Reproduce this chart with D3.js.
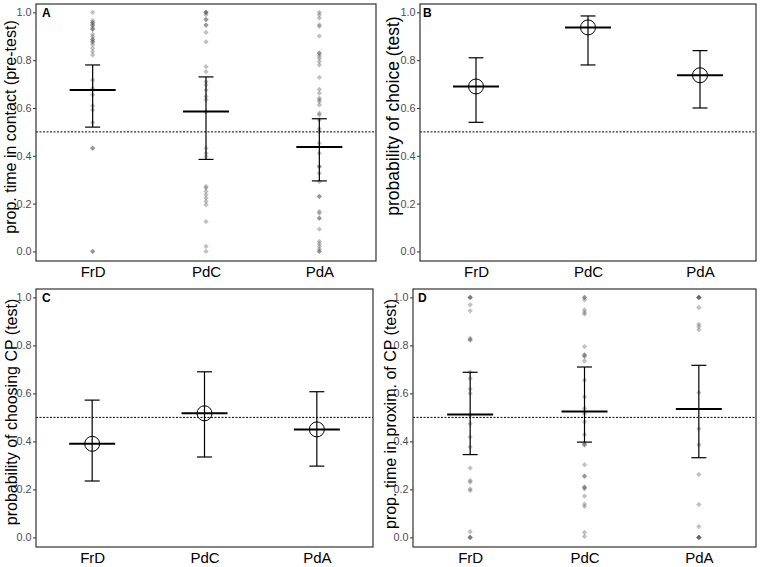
<!DOCTYPE html>
<html>
<head>
<meta charset="utf-8">
<script src="https://cdn.jsdelivr.net/npm/d3@7"></script>
<style>
  body { margin: 0; background: #fff; }
  text { font-family: "Liberation Sans", Arial, sans-serif; }
</style>
</head>
<body>
<script>
const width = 760;
const height = 567;

const groups = ['FrD', 'PdC', 'PdA'];
const yTicks = [0, 0.2, 0.4, 0.6, 0.8, 1.0];
const chance = 0.5;

// panel A: proportion of time in contact (pre-test), per individual
const preFrD = [1.0, 0.965, 0.957, 0.957, 0.947, 0.947, 0.937, 0.929, 0.929, 0.908, 0.898, 0.887, 0.887,
  0.877, 0.877, 0.866, 0.85, 0.836, 0.822, 0.717, 0.682, 0.655, 0.609, 0.592, 0.539, 0.432, 0.432, 0.0, 0.0];
const prePdC = [1.0, 1.0, 1.0, 0.99, 0.97, 0.97, 0.947, 0.947, 0.916, 0.877, 0.773, 0.752, 0.71, 0.696, 0.675,
  0.648, 0.634, 0.585, 0.432, 0.411, 0.397, 0.272, 0.265, 0.251, 0.237, 0.223, 0.209, 0.195, 0.125, 0.021, 0.0];
const prePdA = [1.0, 0.99, 0.976, 0.948, 0.941, 0.901, 0.829, 0.829, 0.818, 0.808, 0.794, 0.78, 0.728, 0.678,
  0.662, 0.641, 0.634, 0.627, 0.613, 0.578, 0.571, 0.55, 0.513, 0.502, 0.453, 0.411, 0.355, 0.355, 0.327,
  0.292, 0.23, 0.23, 0.167, 0.16, 0.139, 0.139, 0.093, 0.042, 0.032, 0.021, 0.01, 0.0, 0.0];
const preMean = [0.675, 0.585, 0.437];
const preLo = [0.52, 0.385, 0.295];
const preHi = [0.78, 0.73, 0.555];

// panel B: probability of choice (test)
const choiceMean = [0.69, 0.937, 0.737];
const choiceLo = [0.54, 0.78, 0.60];
const choiceHi = [0.81, 0.985, 0.84];

// panel C: probability of choosing CP (test)
const cpMean = [0.39, 0.517, 0.45];
const cpLo = [0.235, 0.335, 0.297];
const cpHi = [0.572, 0.69, 0.607];

// panel D: proportion of time in proximity of CP (test), per individual
const proxFrD = [1.0, 1.0, 1.0, 0.969, 0.944, 0.83, 0.823, 0.823, 0.69, 0.662, 0.618, 0.6, 0.509, 0.474,
  0.418, 0.377, 0.289, 0.237, 0.23, 0.202, 0.195, 0.024, 0.0, 0.0, 0.0];
const proxPdC = [1.0, 1.0, 0.99, 0.948, 0.938, 0.93, 0.795, 0.76, 0.76, 0.753, 0.735, 0.655, 0.586, 0.537,
  0.516, 0.481, 0.428, 0.393, 0.386, 0.386, 0.303, 0.255, 0.255, 0.209, 0.209, 0.202, 0.172, 0.139, 0.129,
  0.021, 0.004];
const proxPdA = [1.0, 1.0, 1.0, 1.0, 0.958, 0.888, 0.878, 0.865, 0.603, 0.453, 0.386, 0.262, 0.137, 0.045,
  0.0, 0.0, 0.0, 0.0];
const proxMean = [0.512, 0.525, 0.535];
const proxLo = [0.345, 0.397, 0.332];
const proxHi = [0.688, 0.71, 0.717];

const svg = d3.select('body').append('svg').attr('width', width).attr('height', height);

drawPanel({
  box: { x0: 36, x1: 376, y0: 4, y1: 261 }, tag: 'A', tagX: 42,
  title: 'prop. time in contact (pre-test)', titleX: 16, titleY: 127, titleSize: 16,
  points: [preFrD, prePdC, prePdA], mean: preMean, lo: preLo, hi: preHi, circles: false
});
drawPanel({
  box: { x0: 420, x1: 756, y0: 4, y1: 261 }, tag: 'B', tagX: 423,
  title: 'probability of choice (test)', titleX: 399, titleY: 116, titleSize: 17.5,
  points: null, mean: choiceMean, lo: choiceLo, hi: choiceHi, circles: true
});
drawPanel({
  box: { x0: 36, x1: 373, y0: 289, y1: 547 }, tag: 'C', tagX: 42,
  title: 'probability of choosing CP (test)', titleX: 16.5, titleY: 412, titleSize: 16,
  points: null, mean: cpMean, lo: cpLo, hi: cpHi, circles: true
});
drawPanel({
  box: { x0: 413, x1: 756, y0: 289, y1: 547 }, tag: 'D', tagX: 418,
  title: 'prop. time in proxim. of CP (test)', titleX: 395.5, titleY: 414, titleSize: 16,
  points: [proxFrD, proxPdC, proxPdA], mean: proxMean, lo: proxLo, hi: proxHi, circles: false
});

function drawPanel(p) {
  const { x0, x1, y0, y1 } = p.box;
  const x = d3.scalePoint().domain(groups).range([x0, x1]).padding(0.5);
  const y = d3.scaleLinear().domain([-0.04, 1.035]).range([y1, y0]);
  const g = svg.append('g');

  // y axis ticks and labels
  const yAxis = g.append('g')
    .attr('transform', `translate(${x0},0)`)
    .call(d3.axisLeft(y).tickValues(yTicks).tickFormat(d3.format('.1f')).tickSize(3).tickPadding(1.5));
  yAxis.select('.domain').remove();
  yAxis.selectAll('line').attr('stroke', '#333');
  yAxis.selectAll('text').attr('font-size', 10.8).attr('fill', '#4d4d4d')
    .style('font-family', '"Liberation Sans", Arial, sans-serif');

  // x axis category labels
  const xAxis = g.append('g')
    .attr('transform', `translate(0,${y1})`)
    .call(d3.axisBottom(x).tickSize(0).tickPadding(5));
  xAxis.select('.domain').remove();
  xAxis.selectAll('text').attr('font-size', 15).attr('fill', '#000')
    .style('font-family', '"Liberation Sans", Arial, sans-serif');

  // chance level
  g.append('line')
    .attr('x1', x0).attr('x2', x1)
    .attr('y1', y(chance)).attr('y2', y(chance))
    .attr('stroke', '#000').attr('stroke-width', 1).attr('stroke-dasharray', '2,1.5');

  // individual points
  if (p.points) {
    const diamond = d3.symbol().type(d3.symbolSquare).size(14);
    groups.forEach((grp, i) => {
      g.append('g').selectAll('path')
        .data(p.points[i])
        .enter()
        .append('path')
        .attr('d', diamond)
        .attr('transform', d => `translate(${x(grp)},${y(d)}) rotate(45)`)
        .attr('fill', '#444')
        .attr('fill-opacity', 0.33);
    });
  }

  // error bars
  const cap = 7.5;
  const half = 23;
  groups.forEach((grp, i) => {
    const cx = x(grp);
    g.append('line').attr('x1', cx).attr('x2', cx).attr('y1', y(p.lo[i])).attr('y2', y(p.hi[i]))
      .attr('stroke', '#000').attr('stroke-width', 1.2);
    [p.lo[i], p.hi[i]].forEach(v => {
      g.append('line').attr('x1', cx - cap).attr('x2', cx + cap).attr('y1', y(v)).attr('y2', y(v))
        .attr('stroke', '#000').attr('stroke-width', 1.2);
    });
    g.append('line').attr('x1', cx - half).attr('x2', cx + half).attr('y1', y(p.mean[i])).attr('y2', y(p.mean[i]))
      .attr('stroke', '#000').attr('stroke-width', 2);
    if (p.circles) {
      g.append('circle').attr('cx', cx).attr('cy', y(p.mean[i])).attr('r', 7.5)
        .attr('fill', 'none').attr('stroke', '#000').attr('stroke-width', 1);
    }
  });

  // panel border
  g.append('rect')
    .attr('x', x0).attr('y', y0).attr('width', x1 - x0).attr('height', y1 - y0)
    .attr('fill', 'none').attr('stroke', '#333').attr('stroke-width', 1.2);

  // panel tag
  g.append('text').attr('x', p.tagX).attr('y', y0 + 13)
    .attr('font-size', 12).attr('font-weight', 'bold').text(p.tag);

  // y title
  g.append('text')
    .attr('transform', `translate(${p.titleX},${p.titleY}) rotate(-90)`)
    .attr('text-anchor', 'middle')
    .attr('font-size', p.titleSize)
    .text(p.title);
}
</script>
</body>
</html>
